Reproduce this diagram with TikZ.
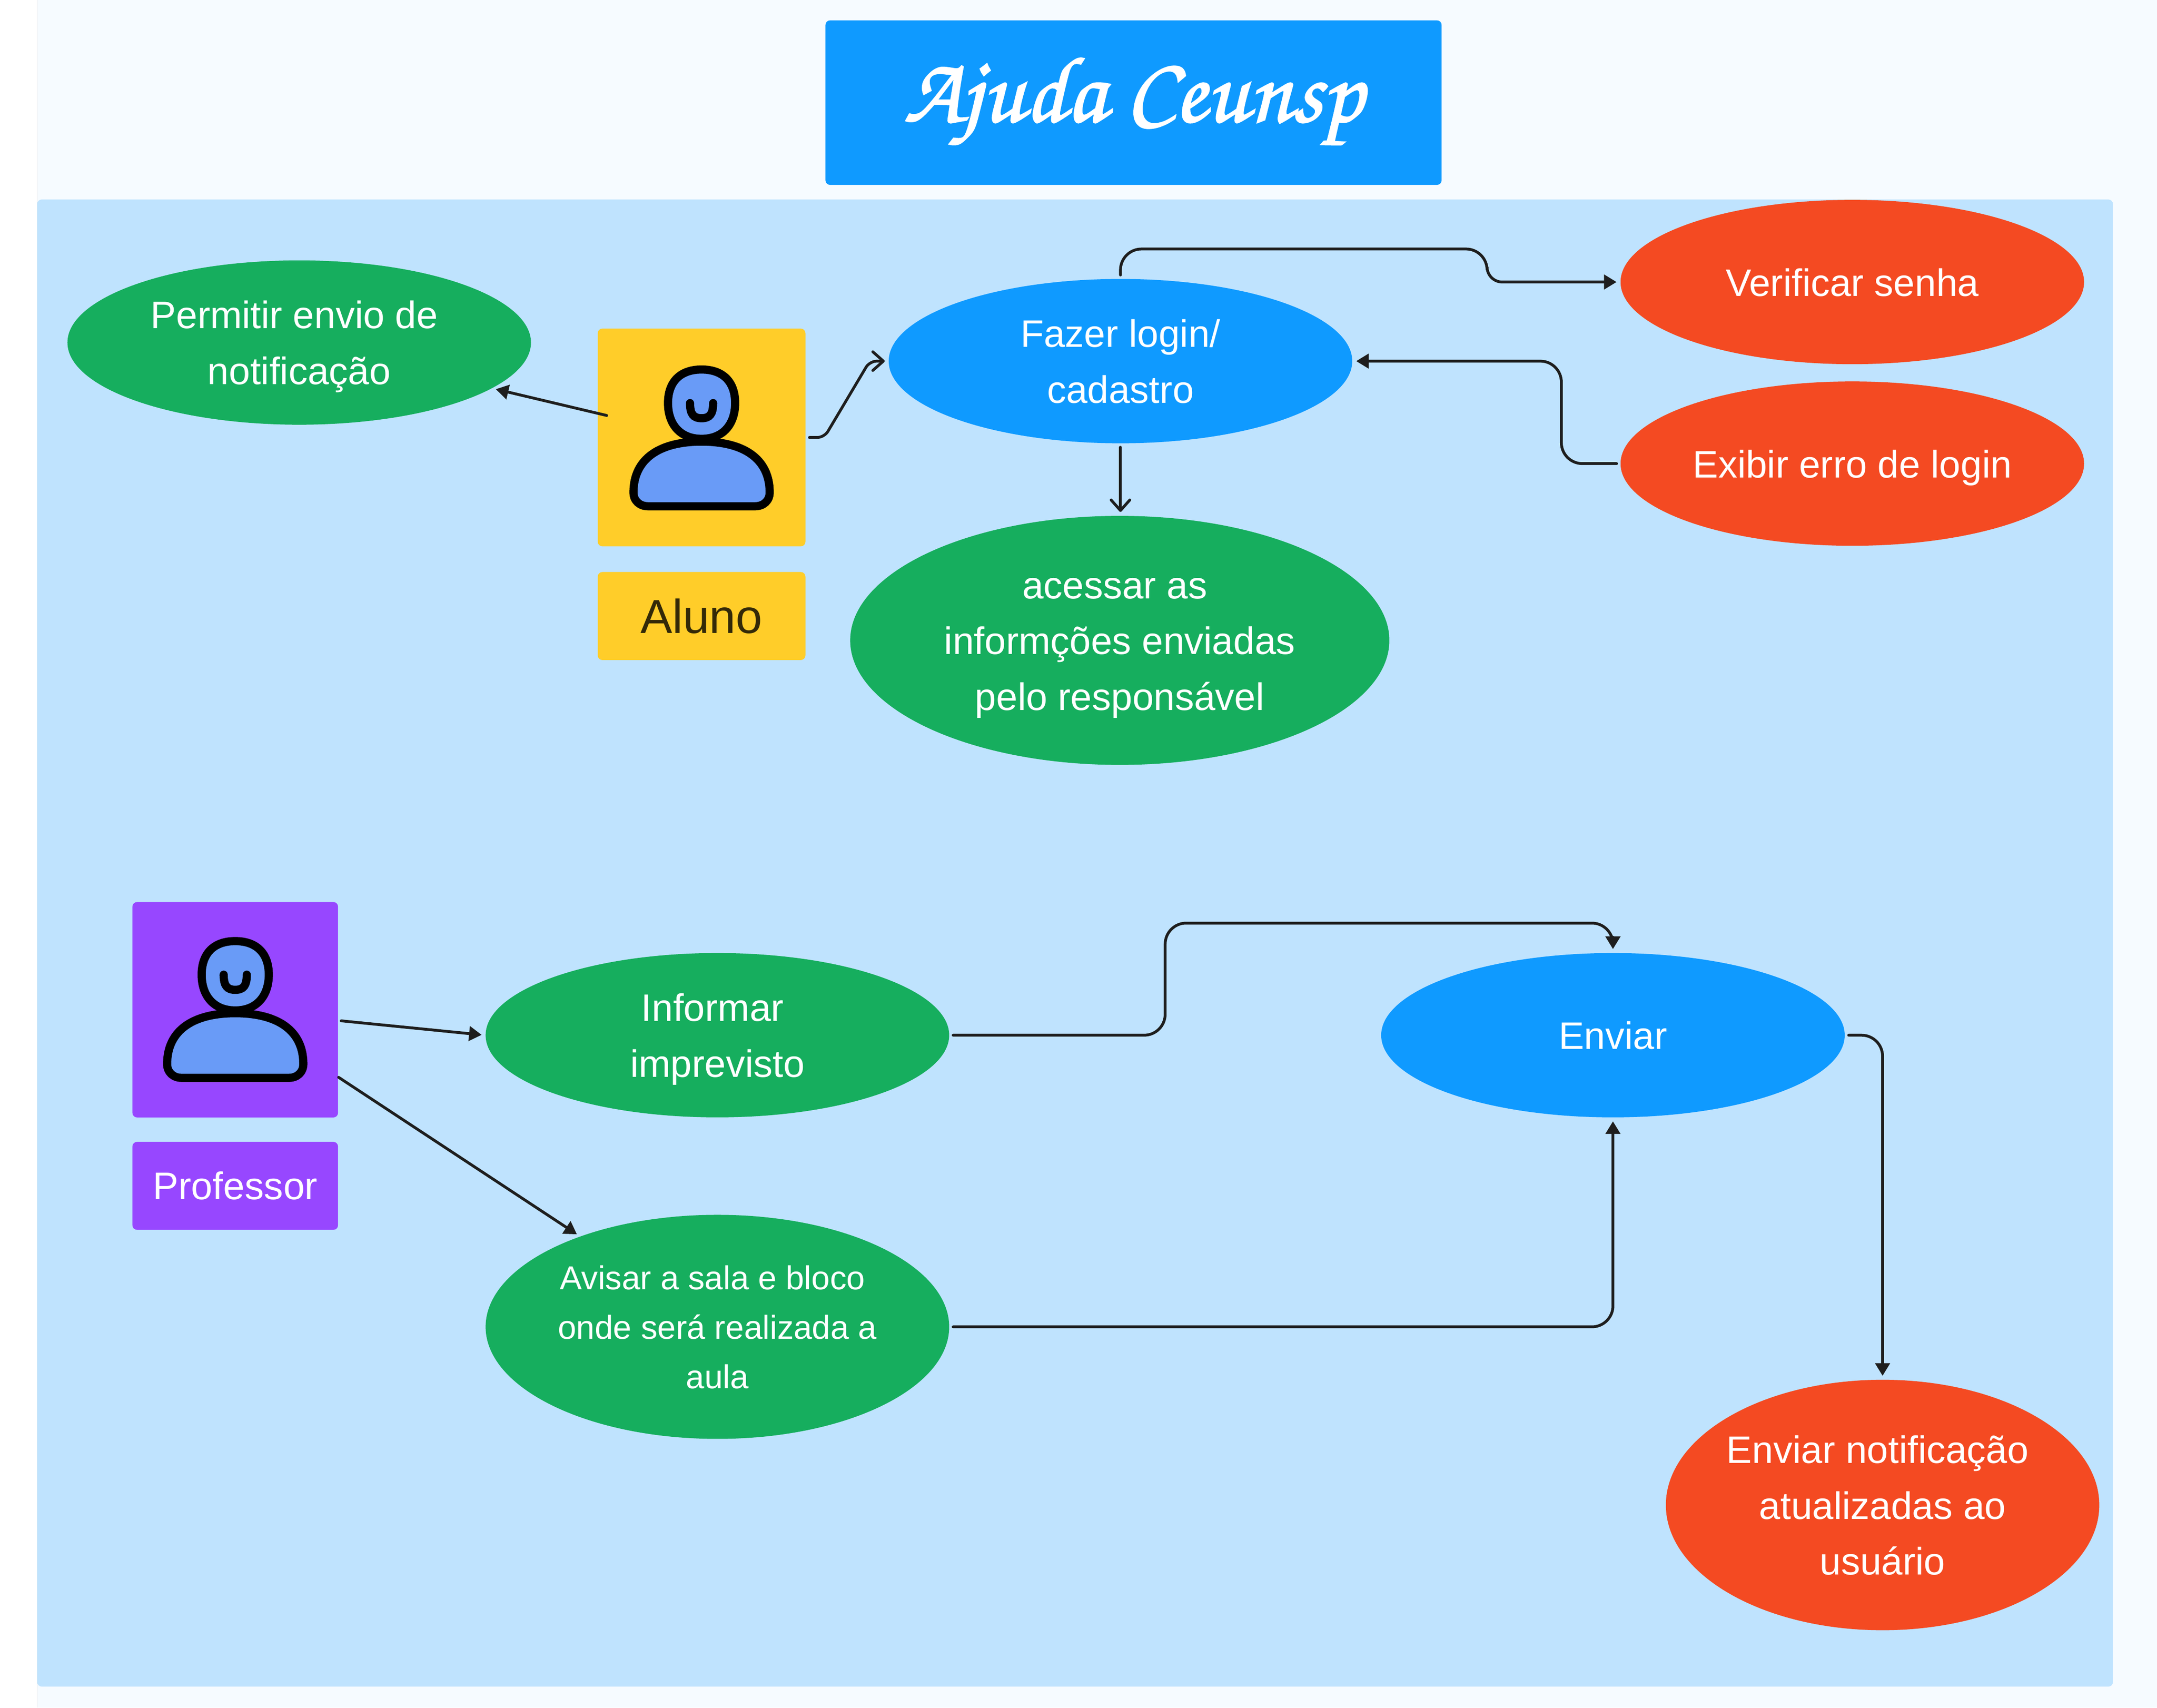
\documentclass[tikz,border=0pt]{standalone}
\usepackage{fontspec}
\setmainfont{Liberation Sans}
\usetikzlibrary{arrows.meta, positioning, shapes.geometric}

\definecolor{pagebg}{HTML}{F6FBFF}
\definecolor{panelbg}{HTML}{BFE3FE}
\definecolor{okblue}{HTML}{0F9AFF}
\definecolor{okgreen}{HTML}{16AE5E}
\definecolor{okred}{HTML}{F44A22}
\definecolor{okyellow}{HTML}{FFCD29}
\definecolor{okpurple}{HTML}{9747FF}
\definecolor{iconblue}{HTML}{699BF7}
\definecolor{linegray}{HTML}{1E1E1E}

\newcommand{\trailgap}{\hspace*{4.2pt}}
\newcommand{\ovalstrut}{\rule[-0.25\baselineskip]{0pt}{\baselineskip}}

\begin{document}
\begin{tikzpicture}[
                x=0.5894pt, y=-0.5894pt,
                oval/.style={ellipse, inner sep=-10pt, text=white, align=center, minimum width=198.6pt, minimum height=70.4pt, font=\fontsize{16.4}{23.9}\selectfont},
                green oval/.style={oval, fill=okgreen},
                blue oval/.style={oval, fill=okblue},
                red oval/.style={oval, fill=okred},
                actor box/.style={rectangle, rounded corners=2pt, inner sep=0pt, minimum width=89pt, minimum height=93.3pt},
                name box/.style={rectangle, rounded corners=2pt, inner sep=0pt, minimum width=89pt, minimum height=37.7pt},
                flow/.style={draw=linegray, line width=1.2pt, rounded corners=9pt, line cap=round, shorten >=1.5pt, shorten <=1.5pt, -{Triangle[length=5.4pt, width=6.2pt]}},
                open flow/.style={flow, -{Straight Barb[length=4.5pt, width=8pt, round]}},
                pics/person/.style={code={
                    \draw[fill=iconblue, line width=3.5pt, line join=round] (0,28) .. controls (-30,28) and (-49.5,40) .. (-49.5,65)
                        .. controls (-49.5,71) and (-45,75) .. (-39,75) -- (39,75)
                        .. controls (45,75) and (49.5,71) .. (49.5,65)
                        .. controls (49.5,40) and (30,28) .. (0,28) -- cycle;
                    \draw[fill=iconblue, line width=3.5pt] (0,-24.4) .. controls (16,-24.4) and (24.4,-15) .. (24.4,0)
                        .. controls (24.4,15) and (16,26) .. (0,26)
                        .. controls (-16,26) and (-24.4,15) .. (-24.4,0)
                        .. controls (-24.4,-15) and (-16,-24.4) .. (0,-24.4) -- cycle;
                    \draw[line width=3.5pt, line cap=round] (-8.4,0) .. controls (-8.4,8) and (-6,11) .. (0,11)
                        .. controls (6,11) and (8.4,8) .. (8.4,0);
                }}
]
    \useasboundingbox (0,0) rectangle (1568,1241.3);

    % Page and panel
        \fill[white] (0,0) rectangle (1568,1241.3);
        \fill[pagebg] (27,0) rectangle (1568,1241.3);
        \draw[black!10, line width=0.3pt] (27,0) -- (27,1241.3);
        \fill[panelbg, rounded corners=2pt] (27,145) rectangle (1536,1226);

    % Title
        \node[rectangle, rounded corners=2pt, fill=okblue, text=white, minimum width=264pt, minimum height=70.5pt, font=\fontsize{40}{44}\fontencoding{T1}\fontfamily{pzc}\selectfont] (title) at (824,74.6) {\raisebox{-1.5pt}{\special{pdf: code q 2 Tr 0.7 w 1 1 1 RG}Ajuda Ceunsp\special{pdf: code Q}}};

    % Aluno side
        \node[actor box, fill=okyellow] (alunobox) at (510,318) {};
        \node[name box, fill=okyellow, text=black!80!okyellow, font=\fontsize{20.4}{24}\selectfont] (alunoname) at (510,447.8) {Aluno};
        \pic at (510,293) {person};

        \node[green oval] (permitir) at (217.5,249) {\ovalstrut Permitir envio de\trailgap\\notificação\ovalstrut};
        \node[blue oval] (fazer) at (814.5,262.5) {\ovalstrut Fazer login/\\cadastro\ovalstrut};
        \node[red oval] (verificar) at (1346.5,205) {\ovalstrut Verificar senha};
        \node[red oval] (exibir) at (1346.5,337) {\ovalstrut Exibir erro de login};
        \node[green oval, minimum width=231pt, minimum height=106.7pt] (acessar) at (814,465.5) {\ovalstrut acessar as\trailgap\\informções enviadas\trailgap\\pelo responsável\ovalstrut};

    % Professor side
        \node[actor box, fill=okpurple, minimum width=88.1pt, minimum height=92.3pt] (profbox) at (171,734) {};
        \node[name box, fill=okpurple, text=white, minimum width=88.1pt, font=\fontsize{16.5}{20}\selectfont] (profname) at (171,862) {Professor};
        \pic at (171,708.5) {person};

        \node[green oval] (informar) at (521.5,752.5) {\ovalstrut Informar\trailgap\\imprevisto\ovalstrut};
        \node[blue oval] (enviar) at (1172.5,752.5) {\ovalstrut Enviar};
        \node[green oval, minimum height=96pt, font=\fontsize{14.2}{21.2}\selectfont] (avisar) at (521.5,964.5) {\ovalstrut Avisar a sala e bloco\trailgap\\onde será realizada a\trailgap\\aula\ovalstrut};
        \node[red oval, minimum width=185.7pt, minimum height=107.3pt] (notif) at (1368.5,1094) {\ovalstrut Enviar notificação\trailgap\\atualizadas ao\trailgap\\usuário\ovalstrut};

    % Free line ends
        \coordinate (alunoout) at (443.5,302.6);
        \coordinate (profup) at (245.5,741.8);
        \coordinate (profdown) at (244,781.7);

    % Edges
        \draw[flow] (alunoout) -- (permitir);
        \draw[open flow, rounded corners=3pt] (alunobox.east) -- (599.2,318) -- (632.2,262.5) -- (fazer.west);
        \draw[open flow] (fazer.south) -- (fazer.south |- acessar.north);
        \draw[flow] (fazer.north) -- (814.5,181) -- (1081,181) [rounded corners=6.5pt] -- (1081,205) -- (verificar.west);
        \draw[flow] (exibir.west) -- (1135,337) -- (1135,262.5) -- (fazer.east);
        \draw[flow] (profup) -- (informar.west);
        \draw[flow] (profdown) -- (avisar);
        \draw[flow] (informar.east) -- (847,752.5) -- (847,671) -- (1172.5,671) -- (enviar.north);
        \draw[flow] (avisar.east) -| (enviar.south);
        \draw[flow] (enviar.east) -| (notif.north);
\end{tikzpicture}
\end{document}
